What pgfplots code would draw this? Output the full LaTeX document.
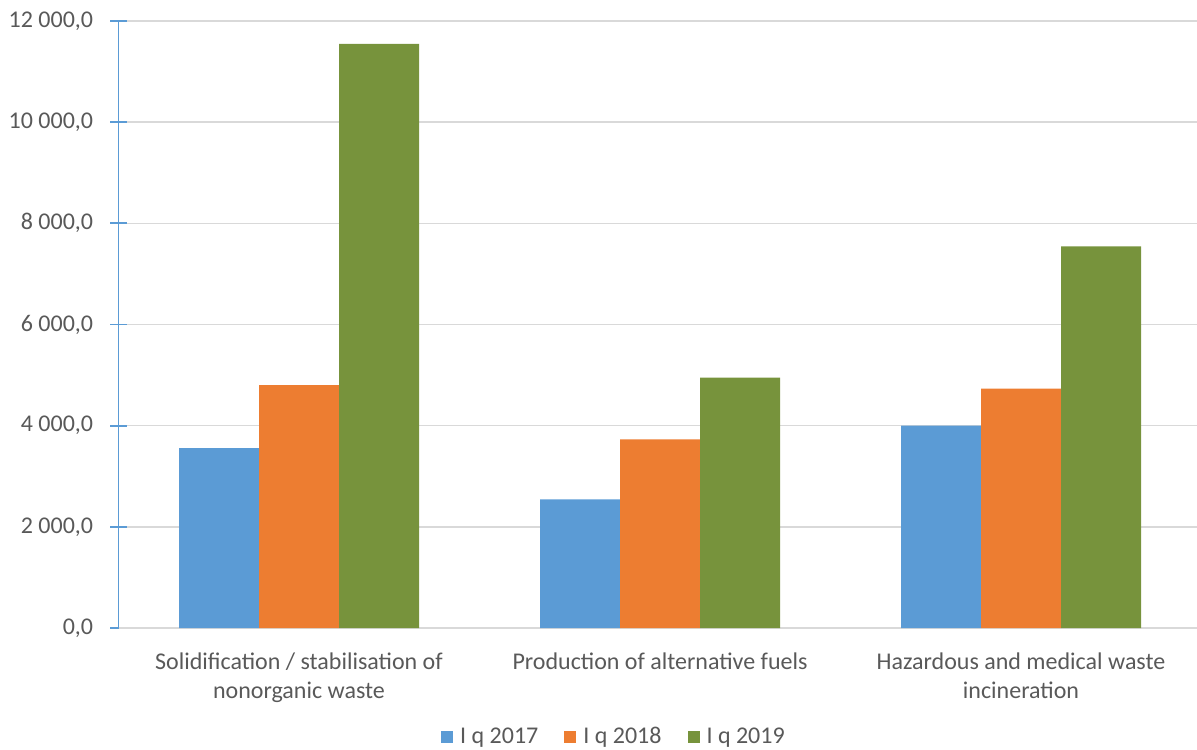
\documentclass[border=0pt]{standalone}
\usepackage{pgfplots}
\pgfplotsset{compat=1.18}
\usepackage{fontspec}
\setmainfont{Carlito}
\definecolor{c17}{HTML}{5B9BD5}
\definecolor{c18}{HTML}{ED7D31}
\definecolor{c19}{HTML}{77933C}
\definecolor{txt}{HTML}{595959}
\definecolor{grd}{HTML}{D9D9D9}
\begin{document}
\begin{tikzpicture}
\path[use as bounding box] (0,0) rectangle (598.5pt,374.5pt);
\begin{axis}[
  at={(59.25pt,60.5pt)}, anchor=south west,
  scale only axis, width=541.5pt, height=303.5pt,
  ybar=0pt, bar width=40pt,
  xmin=-0.5, xmax=2.5, ymin=0, ymax=12000,
  scaled y ticks=false,
  xtick={0,1,2},
  xticklabels={{Solidification / stabilisation of\\nonorganic waste},{Production of alternative fuels},{Hazardous and medical waste\\incineration}},
  ytick={0,2000,4000,6000,8000,10000,12000},
  yticklabels={{0,0},{2 000,0},{4 000,0},{6 000,0},{8 000,0},{10 000,0},{12 000,0}},
  ymajorgrids, grid style={grd, line width=0.8pt},
  axis x line*=bottom, axis y line*=left,
  x axis line style={grd, line width=0.8pt, -},
  y axis line style={c17, line width=0.9pt, -},
  major x tick style={draw=none},
  major y tick style={c17, line width=0.9pt},
  tick align=center, major tick length=8pt,
  yticklabel style={font=\fontsize{12}{14.6}\selectfont, text=txt, inner sep=0pt, xshift=-8.5pt},
  xticklabel style={font=\fontsize{12}{14.6}\selectfont, text=txt, align=center, inner sep=0pt, yshift=-8pt},
  legend style={at={(0.4584,-0.1795)}, anchor=center, draw=none, legend columns=3,
    font=\fontsize{12}{14.6}\selectfont, text=txt,
    /tikz/every odd column/.append style={column sep=1.5pt},
    /tikz/every even column/.append style={column sep=11pt}},
  legend image code/.code={\fill[#1] (0pt,-3pt) rectangle (6pt,3pt);},
  clip=false,
]
\addplot[fill=c17, draw=none] coordinates {(0,3555) (1,2545) (2,4000)};
\addplot[fill=c18, draw=none] coordinates {(0,4800) (1,3730) (2,4730)};
\addplot[fill=c19, draw=none] coordinates {(0,11550) (1,4950) (2,7545)};
\legend{I q 2017, I q 2018, I q 2019}
\end{axis}
\end{tikzpicture}
\end{document}
